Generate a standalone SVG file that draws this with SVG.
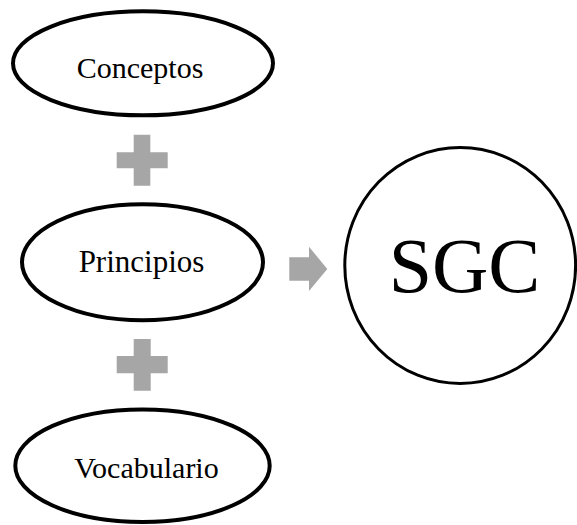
<svg xmlns="http://www.w3.org/2000/svg" width="577" height="525" viewBox="0 0 577 525">
  <style>
    .oval { fill: #ffffff; stroke: #000000; stroke-width: 4; }
    .ring { fill: #ffffff; stroke: #000000; stroke-width: 3; }
    .label { font-family: "Liberation Serif", "Times New Roman", serif; font-size: 30px; fill: #000000; text-anchor: middle; }
    .big { font-family: "Liberation Serif", "Times New Roman", serif; font-size: 78px; fill: #000000; text-anchor: middle; }
    .op { fill: #a6a6a6; }
  </style>
  <rect width="577" height="525" fill="#ffffff"/>

  <!-- operators: plus signs and arrow -->
  <g id="connectors">
    <path class="op" d="M133.7,134.7 H150.3 V152.3 H167.7 V168.3 H150.3 V185.7 H133.7 V168.3 H116.7 V152.3 H133.7 Z"/>
    <path class="op" d="M133.7,339 H150.7 V356 H167.7 V373.3 H150.7 V390.7 H133.7 V373.3 H116.7 V356 H133.7 Z"/>
    <path class="op" d="M289.3,257.3 H309 V246.7 L327.3,269 L309,291 V280.7 H289.3 Z"/>
  </g>

  <g id="conceptos">
    <ellipse class="oval" cx="143" cy="63.3" rx="130" ry="52"/>
    <text class="label" x="140" y="78">Conceptos</text>
  </g>

  <g id="principios">
    <ellipse class="oval" cx="142.5" cy="262.3" rx="120.5" ry="58"/>
    <text class="label" x="141.5" y="271.5" style="font-size:31px">Principios</text>
  </g>

  <g id="vocabulario">
    <ellipse class="oval" cx="142.5" cy="465.7" rx="127.2" ry="56.3"/>
    <text class="label" x="146.5" y="477.5">Vocabulario</text>
  </g>

  <g id="sgc">
    <ellipse class="ring" cx="460.2" cy="265.5" rx="115.4" ry="118"/>
    <text class="big" x="464.5" y="291.5">SGC</text>
  </g>
</svg>
